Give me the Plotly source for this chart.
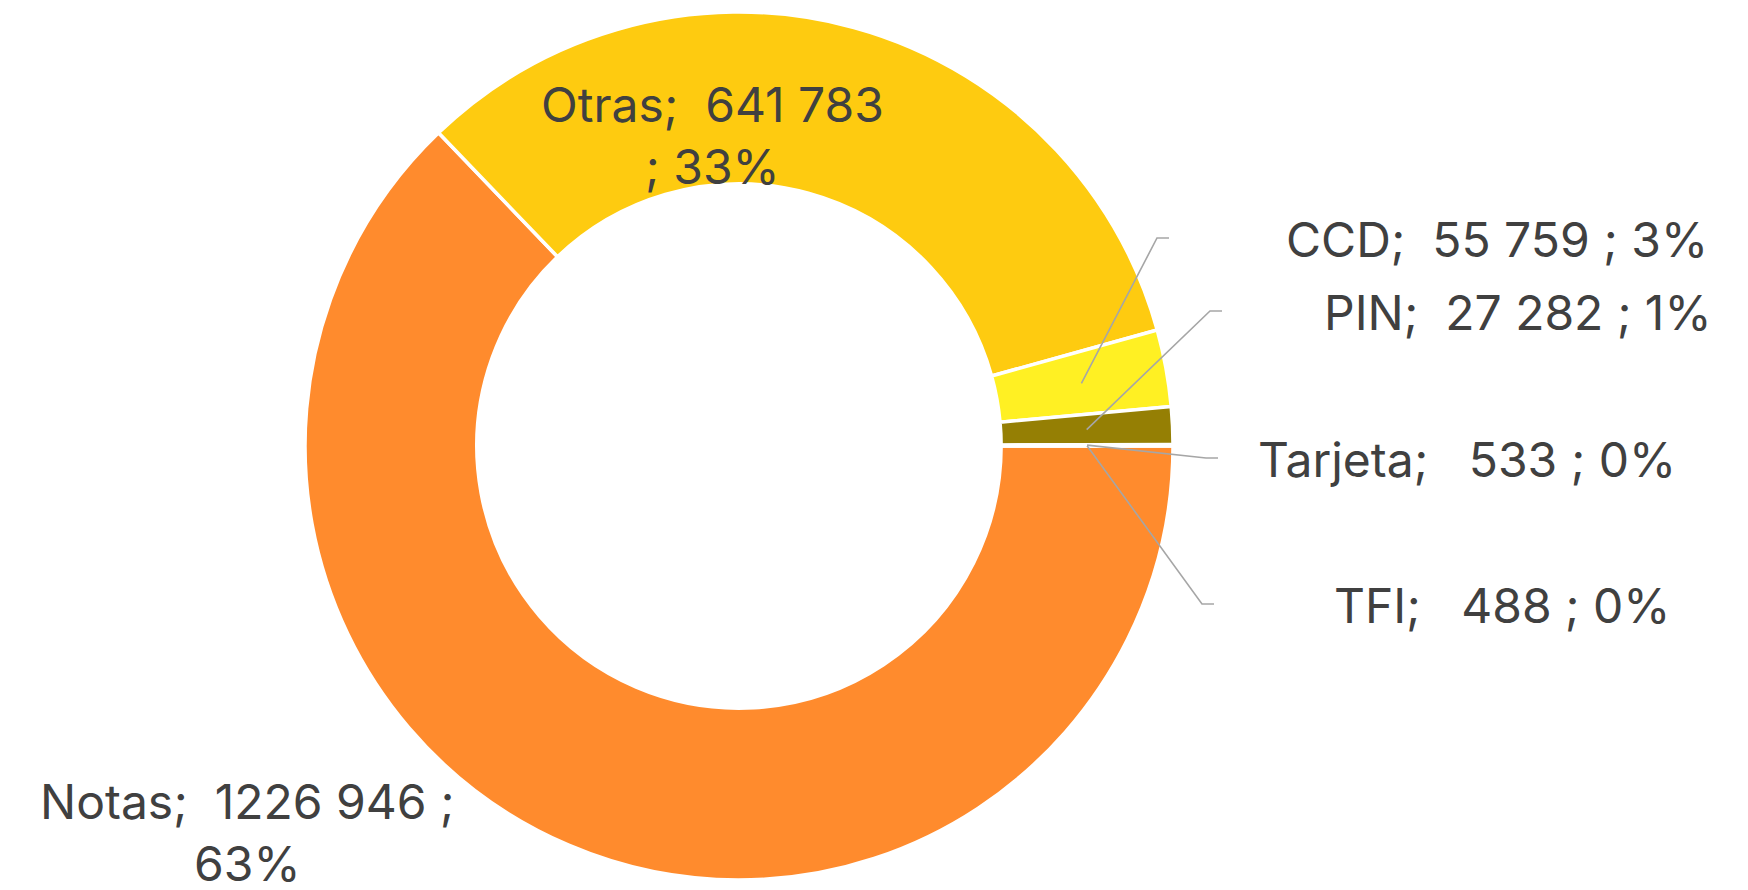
import math
import plotly.graph_objects as go

# Transaction volume by channel
labels = ["Notas", "Otras", "CCD", "PIN", "Tarjeta", "TFI"]
values = [1226946, 641783, 55759, 27282, 533, 488]
colors = ["#FF8B2D", "#FECB10", "#FFF023", "#957F04", "#FFE699", "#C55A11"]

W, H = 1748, 890
CX, CY, R_OUT = 739, 446, 434
HOLE = 0.604
TEXT_COLOR = "#404040"
FONT = "Inter"
FS = 48


def fmt_num(v):
    # "# ##0" style: only the last group is separated
    return f"{v // 1000} {v % 1000:03d}" if v >= 1000 else f"{v}"


total = sum(values)
pcts = [round(100 * v / total) for v in values]


def px(x):
    return x / W


def py(y):
    return 1 - y / H


fig = go.Figure(
    go.Pie(
        labels=labels,
        values=values,
        hole=HOLE,
        sort=False,
        direction="clockwise",
        rotation=90,
        marker=dict(colors=colors, line=dict(color="white", width=3.5)),
        textinfo="none",
        hoverinfo="label+value+percent",
        showlegend=False,
        domain=dict(x=[px(CX - R_OUT), px(CX + R_OUT)],
                    y=[py(CY + R_OUT), py(CY - R_OUT)]),
    )
)

# Mid-angle (clockwise from 12 o'clock) of each slice
mid_angles = []
cum = 0
for v in values:
    mid_angles.append(90 + 360 * (cum + v / 2) / total)
    cum += v

R_MID = R_OUT * (1 + HOLE) / 2


def point_on_ring(angle_deg, r):
    a = math.radians(angle_deg)
    return CX + r * math.sin(a), CY - r * math.cos(a)


annotations = []
shapes = []

# Labels placed on / next to the large slices
two_line = {
    "Otras": (712, 135, f"Otras;\u00a0 {fmt_num(values[1])}<br>; {pcts[1]}%"),
    "Notas": (248, 832, f"Notas;\u00a0 {fmt_num(values[0])} ;<br>{pcts[0]}%"),
}
for name, (x, y, txt) in two_line.items():
    annotations.append(dict(
        x=px(x), y=py(y), xref="paper", yref="paper", text=txt,
        showarrow=False, xanchor="center", yanchor="middle", align="center",
        font=dict(family=FONT, size=FS, color=TEXT_COLOR),
    ))

# Callout labels for the thin slices: (right edge x, y, elbow x, elbow y)
callouts = {
    "CCD": (1710, 239, 1157, 238),
    "PIN": (1714, 312, 1210, 311),
    "Tarjeta": (1678, 459, 1206, 458),
    "TFI": (1673, 605, 1202, 604),
}
for i, name in enumerate(labels):
    if name not in callouts:
        continue
    tx, ty, ex, ey = callouts[name]
    pad = "\u00a0" if values[i] < 1000 else ""
    txt = f"{name};\u00a0 {pad}{fmt_num(values[i])} ; {pcts[i]}%"
    annotations.append(dict(
        x=px(tx), y=py(ty), xref="paper", yref="paper", text=txt,
        showarrow=False, xanchor="right", yanchor="middle",
        font=dict(family=FONT, size=FS, color=TEXT_COLOR),
    ))
    ax, ay = point_on_ring(mid_angles[i], R_MID)
    path = f"M {px(ax)} {py(ay)} L {px(ex)} {py(ey)} L {px(ex + 12)} {py(ey)}"
    shapes.append(dict(type="path", path=path, xref="paper", yref="paper",
                       line=dict(color="#A6A6A6", width=1.6)))

fig.update_layout(
    width=W, height=H,
    margin=dict(l=0, r=0, t=0, b=0),
    paper_bgcolor="white", plot_bgcolor="white",
    annotations=annotations, shapes=shapes,
)

fig.write_html("out.html")
